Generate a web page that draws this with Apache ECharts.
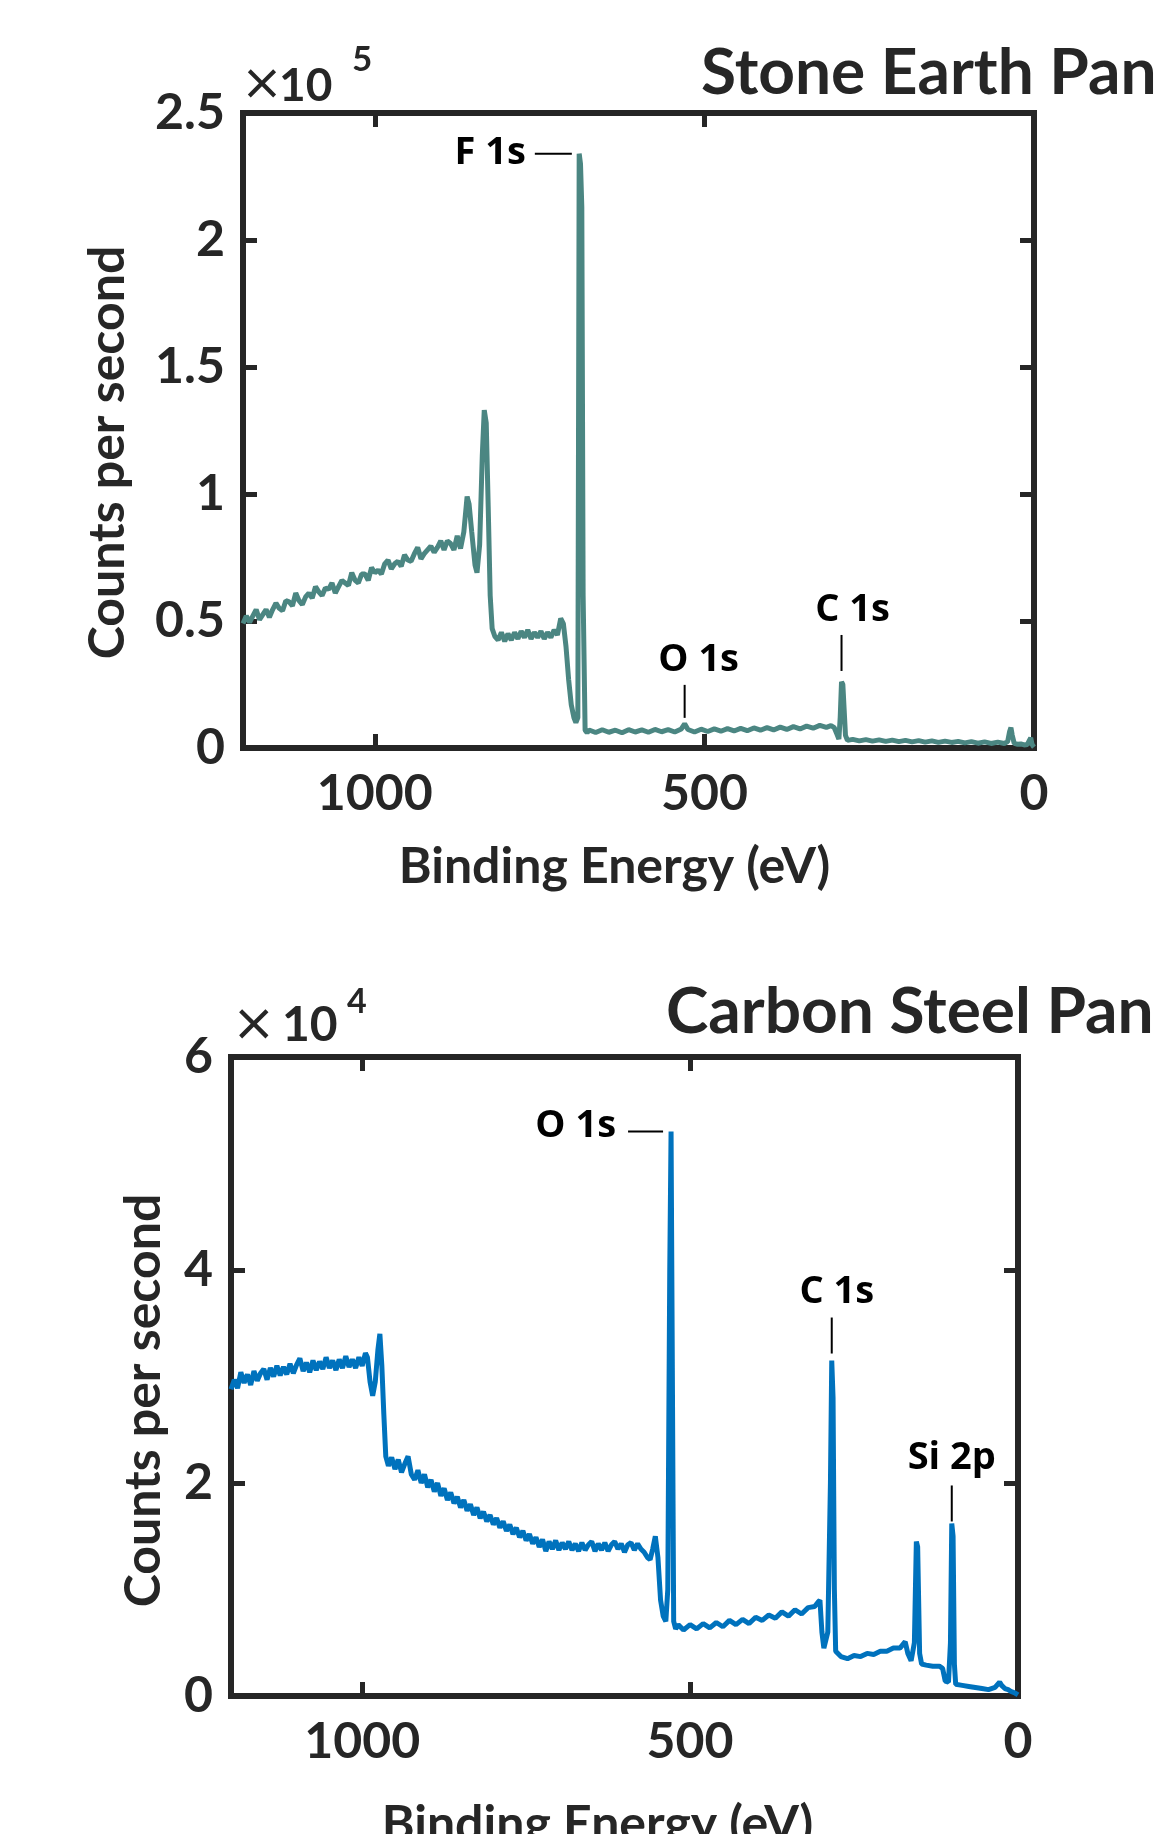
<!DOCTYPE html>
<html>
<head>
<meta charset="utf-8">
<script src="https://cdn.jsdelivr.net/npm/echarts@6.0.0/dist/echarts.min.js"></script>
<style>
  html, body { margin: 0; padding: 0; background: #fff; }
  #chart { width: 1161px; height: 1834px; }
</style>
</head>
<body>
<div id="chart"></div>
<script>
// Stone Earth Pan survey (binding energy in eV, counts per second)
const stoneEnergy = [
  1200, 1195, 1190, 1185, 1180, 1175, 1170, 1165, 1160, 1155, 1150, 1145, 1140, 1135, 1130, 1125,
  1120, 1115, 1110, 1105, 1100, 1095, 1090, 1085, 1080, 1075, 1070, 1065, 1060, 1055, 1050, 1045,
  1040, 1035, 1030, 1025, 1020, 1015, 1010, 1005, 1000, 995, 990, 985, 980, 975, 970, 965,
  960, 955, 950, 945, 940, 935, 930, 925, 920, 915, 910, 905, 900, 895, 890, 885,
  880, 875, 870, 865, 860, 857, 853, 848, 845, 841, 837, 834, 831, 828, 825, 822,
  818, 813, 808, 803, 798, 793, 788, 783, 778, 773, 768, 763, 758, 753, 748, 743,
  738, 733, 728, 723, 718, 714, 710, 706, 702, 698, 695, 692, 690, 688, 686, 684,
  681, 678, 675, 665, 655, 645, 635, 625, 615, 605, 595, 585, 575, 565, 555, 545,
  535, 530, 525, 515, 505, 495, 485, 475, 465, 455, 445, 435, 425, 415, 405, 395,
  385, 375, 365, 355, 345, 335, 325, 315, 308, 303, 299, 296, 294, 292, 290, 288,
  286, 283, 275, 265, 255, 245, 235, 225, 215, 205, 195, 185, 175, 165, 155, 145,
  135, 125, 115, 105, 95, 85, 75, 65, 55, 45, 40, 37, 35, 33, 30, 25,
  20, 15, 10, 7, 5, 3, 1, 0
];
const stoneCounts = [
  49000, 52000, 49500, 52000, 54500, 50500, 52500, 54500, 51500, 54500, 57000, 55000, 54000, 58000, 57500, 56000,
  61000, 58000, 56500, 59500, 61000, 59000, 63500, 61500, 60000, 63000, 62500, 65000, 61000, 63500, 66000, 65000,
  64000, 69000, 66000, 65000, 68500, 68500, 66000, 71000, 69000, 70000, 68500, 72500, 74000, 70500, 72500, 73500,
  71500, 76000, 74000, 73500, 76500, 79000, 74500, 76500, 78000, 79500, 77000, 79000, 81500, 78000, 81500, 80500,
  78000, 83500, 78500, 85000, 99000, 96000, 85000, 72000, 69000, 80000, 115000, 133000, 128000, 95000, 60000, 47000,
  44000, 42500, 45500, 42000, 45000, 42500, 45500, 43000, 46000, 43500, 46500, 43000, 45500, 43500, 46000, 43000,
  45500, 43500, 46500, 44500, 51000, 49000, 40000, 27000, 17000, 12000, 10000, 12000, 234000, 230000, 213000, 60000,
  7000, 6000, 7100, 6100, 7200, 6200, 7000, 6000, 7200, 6300, 7100, 6200, 7300, 6400, 7200, 6300,
  7500, 9500, 7300, 6300, 7400, 6500, 7500, 6600, 7600, 6700, 7700, 6800, 7900, 7000, 8000, 7100,
  8200, 7300, 8400, 7500, 8600, 7800, 8900, 8100, 8800, 8000, 5500, 3500, 12000, 26000, 25000, 15000,
  5000, 3000, 3400, 2800, 3300, 2700, 3200, 2600, 3100, 2500, 3000, 2400, 2900, 2300, 2800, 2200,
  2700, 2200, 2600, 2000, 2500, 1900, 2400, 1800, 2300, 1800, 2500, 6500, 8000, 5000, 1800, 1500,
  1600, 1200, 1400, 3000, 4000, 1500, 600, 300
];

// Carbon Steel Pan survey
const steelEnergy = [
  1200, 1195, 1190, 1185, 1180, 1175, 1170, 1165, 1160, 1155, 1150, 1145, 1140, 1135, 1130, 1125,
  1120, 1115, 1110, 1105, 1100, 1095, 1090, 1085, 1080, 1075, 1070, 1065, 1060, 1055, 1050, 1045,
  1040, 1035, 1030, 1025, 1020, 1015, 1010, 1005, 1000, 995, 992, 988, 984, 980, 976, 973,
  970, 967, 964, 960, 955, 950, 945, 940, 935, 930, 925, 920, 915, 910, 905, 900,
  895, 890, 885, 880, 875, 870, 865, 860, 855, 850, 845, 840, 835, 830, 825, 820,
  815, 810, 805, 800, 795, 790, 785, 780, 775, 770, 765, 760, 755, 750, 745, 740,
  735, 730, 725, 720, 715, 710, 705, 700, 695, 690, 685, 680, 675, 670, 665, 660,
  655, 650, 645, 640, 635, 630, 625, 620, 615, 610, 605, 600, 595, 590, 585, 580,
  575, 570, 565, 561, 557, 553, 549, 545, 541, 537, 534, 531, 529, 527, 525, 522,
  518, 510, 500, 490, 480, 470, 460, 450, 440, 430, 420, 410, 400, 390, 380, 370,
  360, 350, 340, 330, 320, 310, 305, 302, 299, 296, 290, 286, 284, 282, 280, 278,
  270, 260, 250, 240, 230, 220, 210, 200, 190, 180, 172, 168, 163, 158, 155, 153,
  150, 147, 140, 130, 120, 115, 111, 106, 103, 101, 99, 97, 95, 85, 75, 65,
  55, 45, 35, 28, 25, 20, 15, 10, 5, 0
];
const steelCounts = [
  28800, 29700, 28900, 30400, 29400, 30200, 29200, 30500, 29600, 30300, 30700, 29700, 30800, 30000, 31000, 30100,
  30900, 30200, 31200, 30300, 31100, 31700, 30500, 31300, 30400, 31500, 30600, 31400, 30700, 31800, 30800, 31500,
  30600, 31600, 30800, 31900, 30900, 31600, 30800, 31800, 31000, 32200, 31800, 29500, 28200, 29500, 32500, 34000,
  31000, 26500, 22500, 21600, 22400, 21300, 22200, 21000, 21800, 22500, 20800, 20300, 21200, 20000, 20800, 19600,
  20300, 19200, 20000, 18800, 19500, 18400, 19100, 18100, 18700, 17700, 18400, 17400, 18000, 17000, 17700, 16700,
  17300, 16400, 17000, 16100, 16700, 15800, 16400, 15500, 16100, 15200, 15800, 14900, 15500, 14600, 15200, 14300,
  14900, 14000, 14700, 13600, 14500, 13800, 14600, 13700, 14400, 13800, 14500, 13700, 14300, 13600, 14400, 13700,
  14200, 14500, 13600, 14300, 13700, 14400, 13600, 14200, 14500, 13800, 14300, 13500, 14200, 14400, 13700, 14300,
  13800, 13500, 13000, 12800, 13800, 15000, 13000, 9000, 7500, 7000, 10000, 40000, 53000, 30000, 7000, 6300,
  6700, 6200, 6700, 6300, 6800, 6400, 6900, 6500, 7100, 6700, 7200, 6800, 7400, 7100, 7600, 7300,
  7900, 7500, 8100, 7700, 8300, 8400, 8800, 9000, 6000, 4500, 6000, 20000, 31500, 28000, 10000, 4200,
  3700, 3500, 3800, 3700, 4000, 3900, 4200, 4200, 4500, 4500, 5100, 4000, 3300, 5000, 14500, 14000,
  4000, 3000, 2900, 2800, 2800, 2600, 1400, 1300, 5000, 16200, 15000, 3000, 1100, 1000, 900, 800,
  700, 600, 800, 1300, 1000, 700, 600, 400, 300, 100
];

const energyMax = 1200;
const energyInterval = 500;
const stoneMax = 250000;
const stoneInterval = 50000;
const steelMax = 60000;
const steelInterval = 20000;

const AXIS = '#262626';
const TICK_FONT = { fontFamily: 'Lato', fontWeight: 'bold', fontSize: 50, color: AXIS };
const NAME_FONT = { fontFamily: 'Lato', fontWeight: 'bold', fontSize: 50, color: AXIS };

function pairs(xs, ys) {
  return xs.map((x, i) => [x, ys[i]]);
}

function energyAxes(grid, nameGap, shiftLeft) {
  const base = {
    type: 'value',
    gridIndex: grid,
    min: 0,
    max: energyMax,
    interval: energyInterval,
    inverse: true,
    splitLine: { show: false },
    axisLine: { show: true, onZero: false, lineStyle: { color: AXIS, width: 6, cap: 'square' } },
    axisTick: { show: true, inside: true, length: 14, lineStyle: { color: AXIS, width: 5 } },
  };
  return [
    {
      ...base,
      position: 'bottom',
      axisLabel: { ...TICK_FONT, margin: 21, showMaxLabel: false, formatter: (v) => String(v) },
      name: 'Binding Energy (eV)',
      nameLocation: 'middle',
      nameGap: nameGap,
      nameTextStyle: { ...NAME_FONT, padding: [0, shiftLeft * 2, 0, 0] },
    },
    { ...base, position: 'top', axisLabel: { show: false } },
  ];
}

function countAxes(grid, max, interval, scale, nameGap, shiftDown) {
  const base = {
    type: 'value',
    gridIndex: grid,
    min: 0,
    max: max,
    interval: interval,
    splitLine: { show: false },
    axisLine: { show: true, onZero: false, lineStyle: { color: AXIS, width: 6, cap: 'square' } },
    axisTick: { show: true, inside: true, length: 14, lineStyle: { color: AXIS, width: 5 } },
  };
  return [
    {
      ...base,
      position: 'left',
      axisLabel: { ...TICK_FONT, margin: 18, formatter: (v) => String(v / scale) },
      name: 'Counts per second',
      nameLocation: 'middle',
      nameRotate: 90,
      nameGap: nameGap,
      nameTextStyle: { ...NAME_FONT, padding: [0, shiftDown * 2, 0, 0] },
    },
    { ...base, position: 'right', axisLabel: { show: false } },
  ];
}

const chart = echarts.init(document.getElementById('chart'), null, { renderer: 'canvas' });

const xStone = energyAxes(0, 94, 24);
const xSteel = energyAxes(1, 104, 27);
const yStone = countAxes(0, stoneMax, stoneInterval, 1e5, 110, 22);
const ySteel = countAxes(1, steelMax, steelInterval, 1e4, 62, 24);

chart.setOption({
  animation: false,
  backgroundColor: '#ffffff',
  grid: [
    { left: 243, right: 127, top: 113, height: 635, outerBoundsMode: 'none' },
    { left: 231, right: 143, top: 1057, height: 639, outerBoundsMode: 'none' },
  ],
  xAxis: [...xStone, ...xSteel],
  yAxis: [...yStone, ...ySteel],
  series: [
    {
      name: 'Stone Earth Pan',
      type: 'line',
      xAxisIndex: 0,
      yAxisIndex: 0,
      data: pairs(stoneEnergy, stoneCounts),
      showSymbol: false,
      lineStyle: { color: '#4b8682', width: 5 },
      z: 1,
    },
    {
      name: 'Carbon Steel Pan',
      type: 'line',
      xAxisIndex: 2,
      yAxisIndex: 2,
      data: pairs(steelEnergy, steelCounts),
      showSymbol: false,
      lineStyle: { color: '#0072bd', width: 5 },
      z: 1,
    },
  ],
});

// peak labels: anchor in data space, offsets in px
const annotations = [
  { series: 0, at: [689, 234000], text: 'F 1s', side: 'left', dx: -8, len: 37, gap: 9 },
  { series: 0, at: [530, 9500], text: 'O 1s', side: 'up', dy: -6, len: 33, tx: 14, ty: -64 },
  { series: 0, at: [292, 26000], text: 'C 1s', side: 'up', dy: -11, len: 36, tx: 11, ty: -72 },
  { series: 1, at: [529, 53000], text: 'O 1s', side: 'left', dx: -8, len: 35, gap: 12, ty: -5 },
  { series: 1, at: [284, 31500], text: 'C 1s', side: 'up', dy: -7, len: 36, tx: 5, ty: -68 },
  { series: 1, at: [101, 16200], text: 'Si 2p', side: 'up', dy: -2, len: 36, tx: 0, ty: -65 },
];

const LABEL_FONT = 'bold 38px "Open Sans"';
const graphics = [];

annotations.forEach((a) => {
  const [px, py] = chart.convertToPixel({ seriesIndex: a.series }, a.at);
  if (a.side === 'left') {
    const x2 = px + a.dx;
    const x1 = x2 - a.len;
    graphics.push({
      type: 'line',
      shape: { x1, y1: py, x2, y2: py },
      style: { stroke: '#000', lineWidth: 2 },
    });
    graphics.push({
      type: 'text',
      x: x1 - a.gap,
      y: py + (a.ty || 0),
      style: { text: a.text, font: LABEL_FONT, fill: '#000', align: 'right', verticalAlign: 'middle' },
    });
  } else {
    const y2 = py + a.dy;
    const y1 = y2 - a.len;
    graphics.push({
      type: 'line',
      shape: { x1: px, y1, x2: px, y2 },
      style: { stroke: '#000', lineWidth: 2 },
    });
    graphics.push({
      type: 'text',
      x: px + a.tx,
      y: py + a.ty,
      style: { text: a.text, font: LABEL_FONT, fill: '#000', align: 'center', verticalAlign: 'middle' },
    });
  }
});

// titles and axis exponents
const titles = [
  { text: 'Stone Earth Pan', x: 701, y: 73 },
  { text: 'Carbon Steel Pan', x: 666, y: 1012 },
];
titles.forEach((t) => {
  graphics.push({
    type: 'text',
    x: t.x,
    y: t.y,
    style: { text: t.text, font: 'bold 64px Lato', fill: AXIS, align: 'left', verticalAlign: 'middle' },
  });
});

const exponents = [
  { power: '5', crossX: 241, digitX: 279, mid: 86, size: 46, supX: 352, supMid: 60, supSize: 35 },
  { power: '4', crossX: 232, digitX: 282, mid: 1026, size: 48, supX: 347, supMid: 1002, supSize: 34 },
];
exponents.forEach((e) => {
  graphics.push({
    type: 'text', x: e.crossX, y: e.mid,
    style: { text: '\u00d7', font: `normal ${e.size + 4}px "DejaVu Sans"`, fill: AXIS, align: 'left', verticalAlign: 'middle' },
  });
  graphics.push({
    type: 'text', x: e.digitX, y: e.mid,
    style: { text: '10', font: `bold ${e.size}px Lato`, fill: AXIS, align: 'left', verticalAlign: 'middle' },
  });
  graphics.push({
    type: 'text', x: e.supX, y: e.supMid,
    style: { text: e.power, font: `bold ${e.supSize}px Lato`, fill: AXIS, align: 'left', verticalAlign: 'middle' },
  });
});

chart.setOption({ graphic: graphics });
</script>
</body>
</html>
